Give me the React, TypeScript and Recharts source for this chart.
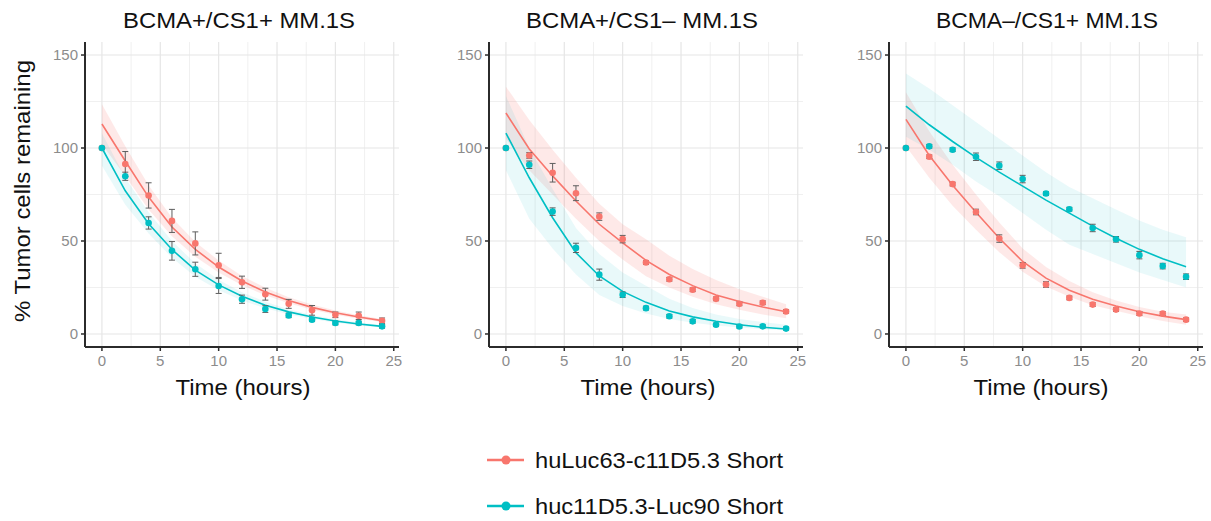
import { ComposedChart, Area, Line, XAxis, YAxis, CartesianGrid, ErrorBar } from "recharts";

const RED = "#F8766D";
const CYAN = "#00BFC4";
const FONT = "'Liberation Sans', Arial, sans-serif";

const TIMES = [0, 2, 4, 6, 8, 10, 12, 14, 16, 18, 20, 22, 24];
const X_TICKS = [0, 5, 10, 15, 20, 25];
const Y_TICKS = [0, 50, 100, 150];
const X_MINOR = [2.5, 7.5, 12.5, 17.5, 22.5];
const Y_MINOR = [25, 75, 125];

const TITLES = ["BCMA+/CS1+ MM.1S", "BCMA+/CS1\u2013 MM.1S", "BCMA\u2013/CS1+ MM.1S"];
const SERIES_NAMES = ["huLuc63-c11D5.3 Short", "huc11D5.3-Luc90 Short"];

// panel 1: BCMA+/CS1+
const p1RedObs = [100, 91.4, 74.5, 60.8, 48.7, 36.9, 27.8, 21.4, 16.2, 12.7, 10.3, 9.8, 7.1];
const p1RedErr = [null, 6.7, 6.8, 6.2, 6.2, 6.5, 3.3, 3.2, 2.4, 2.6, 1.5, 2.0, 1.5];
const p1RedFit = [112.9, 93, 73.6, 57.5, 45.5, 36, 28.5, 22.6, 18, 14.3, 11.4, 9.1, 7.2];
const p1RedLo = [102, 85, 67, 52.5, 41.5, 33, 26.2, 20.8, 16.5, 13, 10.3, 8.2, 6.4];
const p1RedHi = [123.5, 101, 80, 62.5, 49.5, 39.5, 31.2, 24.8, 19.8, 15.8, 12.6, 10.1, 8.1];
const p1CyanObs = [100, 84.8, 59.7, 44.7, 34.8, 25.8, 18.7, 13.4, 10.0, 7.7, 5.9, 5.9, 4.1];
const p1CyanErr = [null, 2.2, 3.3, 5.0, 3.8, 4.0, 2.2, 1.8, 1.2, 1.0, 1.0, 1.0, 1.0];
const p1CyanFit = [100, 77, 59.3, 45.4, 34.3, 26.4, 20.3, 15.5, 11.9, 9.1, 7.0, 5.4, 4.1];
const p1CyanLo = [90.5, 69.5, 54, 41, 30.8, 23.5, 18, 13.8, 10.5, 8, 6.1, 4.6, 3.5];
const p1CyanHi = [108, 84, 65.5, 50, 38, 29.2, 22.5, 17.3, 13.3, 10.2, 7.9, 6.2, 4.8];

// panel 2: BCMA+/CS1-
const p2RedObs = [100, 96.0, 86.7, 75.7, 63.1, 51.0, 38.4, 29.4, 23.8, 18.9, 16.2, 16.8, 12.1];
const p2RedErr = [null, 1.5, 5, 4, 2, 2, 1, 1, 1, 1, 1, 1, 1];
const p2RedFit = [118.8, 99.5, 85, 71.5, 59, 49, 39.6, 32, 26, 21, 17.5, 14.5, 12];
const p2RedLo = [105, 88, 75, 62, 50, 40, 31, 25, 20, 16, 13, 10.5, 8.5];
const p2RedHi = [133, 115, 99, 84, 70, 59, 51, 42, 35, 29, 24, 20, 16];
const p2CyanObs = [100, 91, 65.8, 46.3, 31.9, 21.1, 13.9, 9.5, 6.8, 5.0, 4.0, 4.1, 2.9];
const p2CyanErr = [null, 2, 2, 2.5, 3, 1.5, 1, 1, 1, 0.8, 0.8, 0.8, 0.8];
const p2CyanFit = [108, 84, 62.5, 43.7, 31.2, 22.9, 17, 12.4, 9.2, 6.8, 5, 3.6, 2.7];
const p2CyanLo = [88, 62, 46, 32, 21, 15, 11, 8, 6, 4.5, 3.5, 2.5, 2];
const p2CyanHi = [128, 100, 78, 57, 43, 33, 26, 19, 14, 10.5, 8, 6.5, 5];

// panel 3: BCMA-/CS1+
const p3RedObs = [100, 95.3, 80.6, 65.6, 51.3, 36.9, 26.6, 19.4, 15.8, 13.1, 11, 11, 7.7];
const p3RedErr = [null, 1, 1, 1.5, 2, 1.5, 1.5, 1, 1, 1, 1, 1, 1];
const p3RedFit = [115.4, 96, 80, 65.5, 51.5, 39, 30, 23.5, 18.7, 15, 12, 9.6, 7.7];
const p3RedLo = [101, 84, 69, 56, 44, 33.5, 25.5, 20, 15.5, 12.5, 9.5, 7, 5];
const p3RedHi = [130, 109, 91, 75, 60, 46, 36, 28.5, 22.5, 18, 14.5, 12, 10.5];
const p3CyanObs = [100, 100.9, 99.1, 95.3, 90.5, 83.3, 75.5, 67.1, 57, 50.9, 42.4, 36.5, 30.8];
const p3CyanErr = [null, 1, 1, 2, 2, 2, 1, 1, 2, 1.5, 2, 1.5, 1.5];
const p3CyanFit = [122.5, 112.5, 103.5, 95, 87, 79.5, 72, 65, 58, 51.5, 45.5, 40.5, 36.2];
const p3CyanLo = [106, 99, 91, 82, 74, 65, 56, 48, 43, 38, 33, 29, 25];
const p3CyanHi = [140, 132, 123, 114, 105, 96, 87, 79, 73, 67, 61, 56, 52];

function buildRows(
  redObs: any[], redErr: any[], redFit: number[], redLo: number[], redHi: number[],
  cyanObs: any[], cyanErr: any[], cyanFit: number[], cyanLo: number[], cyanHi: number[]
) {
  return TIMES.map((t, i) => ({
    t,
    redObs: redObs[i],
    redErr: redErr[i],
    redFit: redFit[i],
    redBand: [redLo[i], redHi[i]],
    cyanObs: cyanObs[i],
    cyanErr: cyanErr[i],
    cyanFit: cyanFit[i],
    cyanBand: [cyanLo[i], cyanHi[i]],
  }));
}

const panels = [
  {
    title: TITLES[0], plotLeft: 85, titleX: 239, titleW: 232, labelX: 243,
    rows: buildRows(p1RedObs, p1RedErr, p1RedFit, p1RedLo, p1RedHi, p1CyanObs, p1CyanErr, p1CyanFit, p1CyanLo, p1CyanHi),
  },
  {
    title: TITLES[1], plotLeft: 489, titleX: 642, titleW: 232, labelX: 648,
    rows: buildRows(p2RedObs, p2RedErr, p2RedFit, p2RedLo, p2RedHi, p2CyanObs, p2CyanErr, p2CyanFit, p2CyanLo, p2CyanHi),
  },
  {
    title: TITLES[2], plotLeft: 889, titleX: 1047, titleW: 222, labelX: 1041,
    rows: buildRows(p3RedObs, p3RedErr, p3RedFit, p3RedLo, p3RedHi, p3CyanObs, p3CyanErr, p3CyanFit, p3CyanLo, p3CyanHi),
  },
];

const Y_AXIS_W = 45;
const PLOT_W = 314;
const axisStroke = { stroke: "#2b2b2b", strokeWidth: 2 };
const tickStroke = { stroke: "#2b2b2b", strokeWidth: 1.5 };
const tickStyle = { fill: "#8c8c8c", fontSize: 15, fontFamily: FONT };

function Panel({ p }: { p: any }) {
  return (
    <div style={{ position: "absolute", left: p.plotLeft - Y_AXIS_W, top: 40 }}>
      <ComposedChart
        width={Y_AXIS_W + PLOT_W + 5}
        height={337}
        data={p.rows}
        margin={{ top: 2, right: 5, bottom: 0, left: 0 }}
      >
        <CartesianGrid
          stroke="#f0f0f0"
          strokeWidth={1}
          horizontalValues={Y_MINOR}
          verticalValues={X_MINOR}
        />
        <CartesianGrid
          stroke="#e6e6e6"
          strokeWidth={1.2}
          horizontalValues={Y_TICKS}
          verticalValues={X_TICKS}
        />
        <XAxis
          type="number"
          dataKey="t"
          domain={[-1.45, 25.45]}
          ticks={X_TICKS}
          allowDataOverflow
          height={30}
          axisLine={axisStroke}
          tickLine={tickStroke}
          tickSize={4}
          tickMargin={4}
          tick={tickStyle}
        />
        <YAxis
          type="number"
          domain={[-7, 157]}
          ticks={Y_TICKS}
          allowDataOverflow
          width={Y_AXIS_W}
          axisLine={axisStroke}
          tickLine={tickStroke}
          tickSize={4}
          tickMargin={3}
          tick={tickStyle}
        />
        <Area type="linear" dataKey="redBand" stroke="none" fill={RED} fillOpacity={0.16} activeDot={false} isAnimationActive={false} />
        <Area type="linear" dataKey="cyanBand" stroke="none" fill={CYAN} fillOpacity={0.085} activeDot={false} isAnimationActive={false} />
        <Line type="linear" dataKey="redFit" stroke={RED} strokeWidth={1.6} dot={false} activeDot={false} isAnimationActive={false} />
        <Line type="linear" dataKey="cyanFit" stroke={CYAN} strokeWidth={1.6} dot={false} activeDot={false} isAnimationActive={false} />
        <Line
          dataKey="redObs"
          stroke="none"
          dot={{ r: 3.3, fill: RED, stroke: "none" }}
          activeDot={false}
          isAnimationActive={false}
        >
          <ErrorBar dataKey="redErr" direction="y" width={3} stroke="#5e5e5e" strokeWidth={1} />
        </Line>
        <Line
          dataKey="cyanObs"
          stroke="none"
          dot={{ r: 3.3, fill: CYAN, stroke: "none" }}
          activeDot={false}
          isAnimationActive={false}
        >
          <ErrorBar dataKey="cyanErr" direction="y" width={3} stroke="#5e5e5e" strokeWidth={1} />
        </Line>
      </ComposedChart>
    </div>
  );
}

export default function App() {
  return (
    <div style={{ position: "absolute", left: 0, top: 0, width: 1211, height: 521, background: "#fff", fontFamily: FONT }}>
      {panels.map((p, i) => (
        <Panel key={i} p={p} />
      ))}
      <svg width={1211} height={521} style={{ position: "absolute", left: 0, top: 0, pointerEvents: "none" }}>
        {panels.map((p, i) => (
          <g key={i}>
            <text x={p.titleX} y={28} textAnchor="middle" fontSize={22} fill="#111" fontFamily={FONT} textLength={p.titleW} lengthAdjust="spacingAndGlyphs">
              {p.title}
            </text>
            <text x={p.labelX} y={395} textAnchor="middle" fontSize={22} fill="#111" fontFamily={FONT} textLength={135} lengthAdjust="spacingAndGlyphs">
              Time (hours)
            </text>
          </g>
        ))}
        <text x={30} y={191} transform="rotate(-90 30 191)" textAnchor="middle" fontSize={22} fill="#111" fontFamily={FONT} textLength={262} lengthAdjust="spacingAndGlyphs">
          % Tumor cells remaining
        </text>
        {SERIES_NAMES.map((name, i) => {
          const y = i === 0 ? 460 : 506;
          const c = i === 0 ? RED : CYAN;
          return (
            <g key={name}>
              <line x1={487} x2={524} y1={y} y2={y} stroke={c} strokeWidth={2.5} />
              <circle cx={506} cy={y} r={4.5} fill={c} />
              <text x={535} y={y + 8} fontSize={22} fill="#111" fontFamily={FONT} textLength={248} lengthAdjust="spacingAndGlyphs">
                {name}
              </text>
            </g>
          );
        })}
      </svg>
    </div>
  );
}
